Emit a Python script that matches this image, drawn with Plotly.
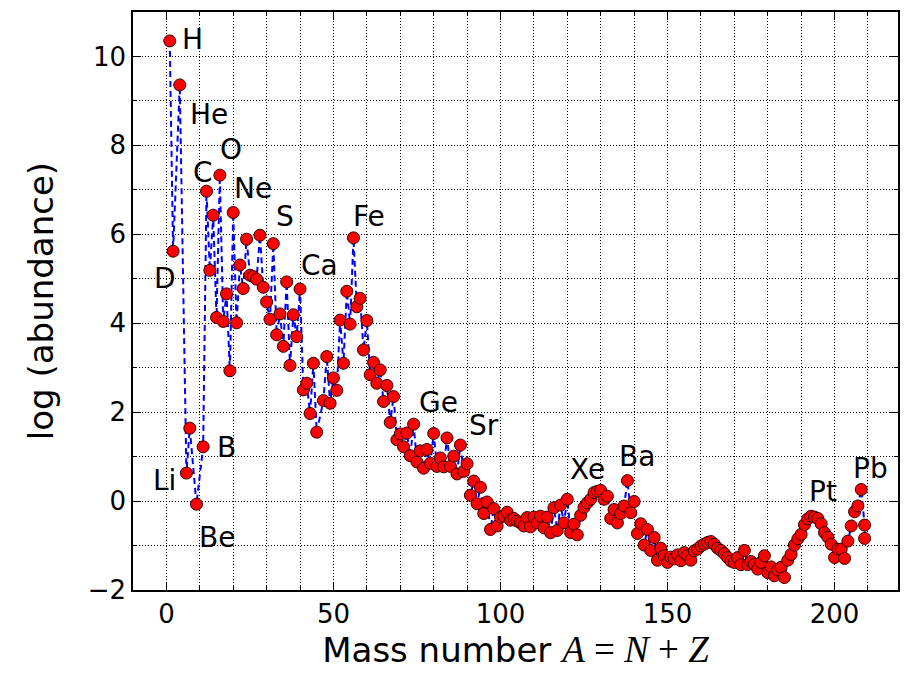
import plotly.graph_objects as go

# Mass numbers and log abundances
mass_low = [1, 2, 4, 6, 7, 9, 11, 12, 13, 14, 15, 16, 17, 18, 19, 20, 21, 22, 23, 24,
            25, 26, 27, 28, 29, 30, 31, 32, 33, 34, 35, 36, 37, 38, 39, 40, 41, 42, 43,
            44, 45, 47, 48, 49, 50, 51, 52, 53, 54, 55, 56, 57, 58, 59, 60, 61, 62, 63,
            64, 65, 66, 67]
logab_low = [10.35, 5.62, 9.36, 0.63, 1.64, -0.07, 1.22, 6.97, 5.19, 6.43, 4.13, 7.33,
             4.04, 4.66, 2.93, 6.49, 4.01, 5.31, 4.78, 5.89, 5.08, 5.05, 4.99, 5.98,
             4.81, 4.48, 4.09, 5.79, 3.74, 4.21, 3.48, 4.93, 3.05, 4.19, 3.70, 4.77,
             2.50, 2.65, 1.97, 3.10, 1.55, 2.26, 3.25, 2.20, 2.77, 2.49, 4.07, 3.10,
             4.72, 3.98, 5.92, 4.37, 4.56, 3.40, 4.06, 2.84, 3.12, 2.65, 2.95, 2.24,
             2.60, 1.77]
mass_mid = list(range(68, 144))
logab_mid = [2.35, 1.38, 1.51, 1.22, 1.53, 1.02, 1.73, 0.88, 1.13, 0.74, 1.16, 0.85,
             1.52, 0.78, 0.97, 0.77, 1.42, 0.78, 1.01, 0.61, 1.26, 0.67, 0.84, 0.13,
             0.45, -0.06, 0.31, -0.28, -0.02, -0.64, -0.17, -0.56, -0.36, -0.34, -0.25,
             -0.43, -0.39, -0.45, -0.49, -0.56, -0.37, -0.58, -0.36, -0.49, -0.34, -0.60,
             -0.36, -0.71, -0.15, -0.66, -0.09, -0.49, 0.04, -0.71, -0.52, -0.76, -0.32,
             -0.14, -0.04, 0.04, 0.19, 0.22, 0.24, 0.04, 0.11, -0.39, -0.19, -0.49,
             -0.28, -0.11, 0.46, -0.26, -0.01, -0.73, -0.51, -0.99]
mass_high = list(range(144, 210)) + [209]
logab_high = [-0.64, -1.11, -0.82, -1.33, -1.06, -1.23, -1.38, -1.26, -1.30, -1.21,
              -1.34, -1.16, -1.23, -1.33, -1.12, -1.08, -1.01, -0.97, -0.93, -0.91,
              -0.97, -1.06, -1.11, -1.18, -1.27, -1.35, -1.38, -1.27, -1.43, -1.11,
              -1.43, -1.36, -1.42, -1.53, -1.38, -1.23, -1.61, -1.48, -1.68, -1.55,
              -1.49, -1.72, -1.33, -1.20, -0.99, -0.85, -0.75, -0.53, -0.40, -0.34,
              -0.36, -0.39, -0.51, -0.71, -0.81, -0.97, -1.27, -1.08, -1.08, -1.29,
              -0.90, -0.56, -0.24, -0.11, 0.26, -0.54, -0.84]

mass_number = mass_low + mass_mid + mass_high
log_abundance = logab_low + logab_mid + logab_high

# Element labels: name, label centre (A, log abundance)
label_names = ["H", "D", "He", "Li", "Be", "B", "C", "O", "Ne", "S", "Ca", "Fe",
               "Ge", "Sr", "Xe", "Ba", "Pt", "Pb"]
label_A = [7.8, -0.3, 12.8, -0.6, 15.0, 18.0, 11.1, 19.2, 26.0, 35.6, 45.8, 60.5,
           81.4, 95.2, 126.0, 141.0, 196.4, 210.8]
label_y = [10.38, 5.00, 8.70, 0.47, -0.81, 1.21, 7.40, 7.91, 7.04, 6.41, 5.29, 6.41,
           2.22, 1.70, 0.70, 1.01, 0.22, 0.74]

FONT = "DejaVu Sans"

fig = go.Figure()
fig.add_trace(go.Scatter(
    x=mass_number, y=log_abundance, mode="lines+markers",
    line=dict(color="#0000ff", width=2, dash="6px,4px"),
    marker=dict(color="#ff0000", size=12, line=dict(color="#300000", width=1)),
    showlegend=False, cliponaxis=False,
))

for name, ax_, ay_ in zip(label_names, label_A, label_y):
    fig.add_annotation(x=ax_, y=ay_, text=name, showarrow=False,
                       font=dict(family=FONT, size=28, color="black"),
                       xanchor="center", yanchor="middle")

axis_common = dict(
    showline=True, linecolor="black", linewidth=1.6, mirror="ticks",
    ticks="inside", ticklen=8, tickwidth=1, tickcolor="black",
    showgrid=True, gridcolor="black", gridwidth=0.8, griddash="1px,2px",
    zeroline=False, tickfont=dict(family=FONT, size=26, color="black"),
)

fig.update_xaxes(
    range=[-10, 219], dtick=50, tick0=0,
    minor=dict(dtick=10, ticks="inside", ticklen=4, tickcolor="black",
               showgrid=True, gridcolor="black", gridwidth=0.8, griddash="1px,2px"),
    title=dict(text='Mass number <span style="font-family:Liberation Serif;font-size:37px"><i>A</i> = <i>N</i> + <i>Z</i></span>',
               font=dict(family=FONT, size=34, color="black"), standoff=8),
    **axis_common,
)
fig.update_yaxes(
    range=[-2, 11], dtick=2, tick0=0,
    minor=dict(dtick=1, ticks="inside", ticklen=4, tickcolor="black",
               showgrid=True, gridcolor="black", gridwidth=0.8, griddash="1px,2px"),
    title=dict(text="log (abundance)", font=dict(family=FONT, size=34, color="black"),
               standoff=24),
    **axis_common,
)

fig.update_layout(
    width=910, height=674,
    margin=dict(l=133, r=12, t=10, b=84),
    plot_bgcolor="white", paper_bgcolor="white",
    font=dict(family=FONT, color="black"),
)

fig.write_html("out.html")
